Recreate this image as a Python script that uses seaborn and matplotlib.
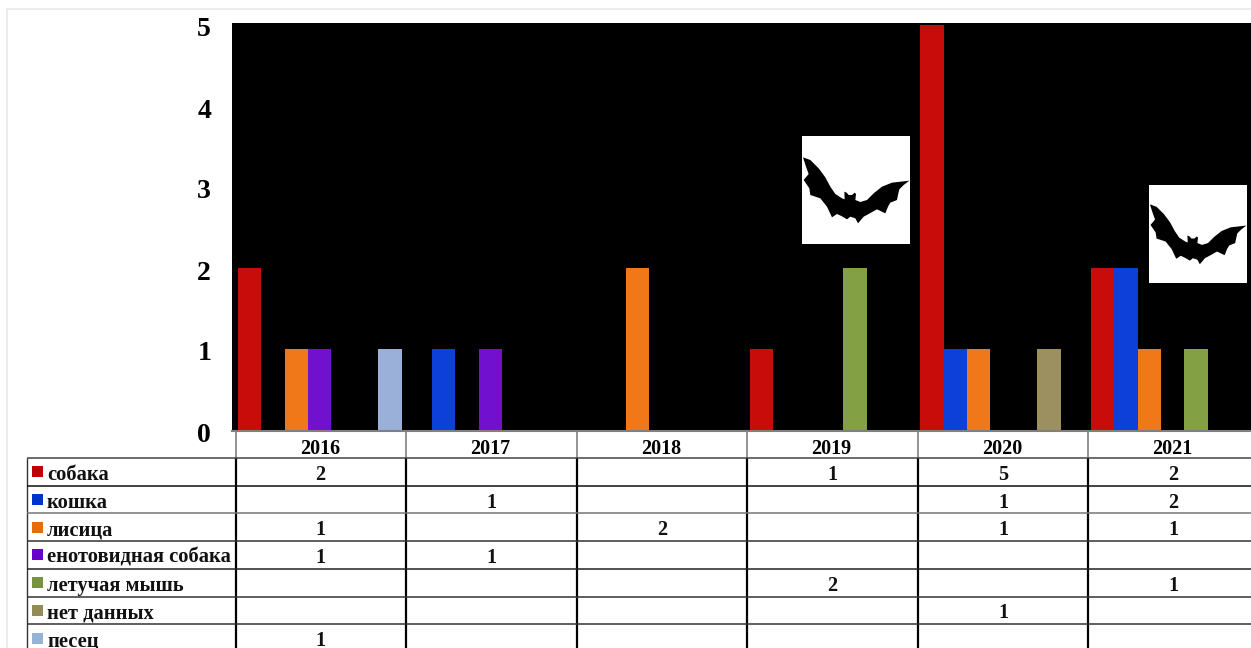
"""Cases by animal species and year, with a data table under the bars."""

import matplotlib

matplotlib.use("Agg")
import matplotlib.pyplot as plt
import numpy as np
import pandas as pd
import seaborn as sns
from matplotlib.patches import Polygon, Rectangle
from matplotlib.transforms import ScaledTranslation

YEARS = ["2016", "2017", "2018", "2019", "2020", "2021"]
SPECIES = ["собака", "кошка", "лисица", "енотовидная собака", "летучая мышь", "нет данных", "песец"]

DOG = [2, None, None, 1, 5, 2]
CAT = [None, 1, None, None, 1, 2]
FOX = [1, None, 2, None, 1, 1]
RACCOON_DOG = [1, 1, None, None, None, None]
BAT = [None, None, None, 2, None, 1]
NO_DATA = [None, None, None, None, 1, None]
ARCTIC_FOX = [1, None, None, None, None, None]
SERIES = [DOG, CAT, FOX, RACCOON_DOG, BAT, NO_DATA, ARCTIC_FOX]

BAR_COLORS = ["#c80c0a", "#0c40d8", "#f07818", "#7210d0", "#84a044", "#9c9060", "#9ab0d8"]
KEY_COLORS = ["#c00000", "#0033cc", "#e46c0a", "#6600cc", "#77933c", "#948a54", "#95b3d7"]
ROW_LINE_COLORS = ["#444444", "#111111", "#777777", "#333333", "#222222", "#333333", "#333333"]

# outline of the bat picture, traced at 3x (324 px box, 42 px above the trace)
BAT_SHAPE = (np.array([
    (3, 22), (25, 30), (50, 55), (70, 82), (85, 110), (100, 132), (120, 145), (128, 148),
    (127, 125), (134, 128), (140, 135), (150, 135), (158, 128), (162, 132), (160, 150),
    (175, 156), (195, 150), (215, 130), (240, 110), (270, 98), (322, 92), (305, 105),
    (292, 118), (288, 135), (285, 150), (265, 158), (258, 170), (250, 190), (225, 178),
    (200, 192), (185, 200), (168, 220), (160, 205), (145, 200), (135, 208), (118, 198),
    (105, 192), (90, 202), (75, 170), (55, 145), (25, 135), (22, 115), (5, 90), (20, 72),
    (12, 50),
]) + [0, 42]) / 324

WIDTH, HEIGHT = 1251, 648
COL_LEFT, COL_WIDTH = 236, 170.4
CENTER_0, CENTER_STEP = 320.5, 170.6
BAR_SHIFT = 0.8
ROW_TOP, ROW_HEIGHT = 458, 27.7
FONT = "Liberation Serif"


def draw_bars(ax):
    rows = []
    for name, values in zip(SPECIES, SERIES):
        for year, value in zip(YEARS, values):
            rows.append({"year": year, "species": name, "cases": value})
    df = pd.DataFrame(rows)

    sns.barplot(
        data=df, x="year", y="cases", hue="species", order=YEARS, hue_order=SPECIES,
        palette=BAR_COLORS, width=0.96, gap=0, saturation=1, legend=False, errorbar=None,
        linewidth=0, edgecolor="none", ax=ax,
    )
    ax.set_facecolor("black")
    center = CENTER_0 - BAR_SHIFT
    ax.set_xlim((232 - center) / CENTER_STEP, (WIDTH - center) / CENTER_STEP)
    ax.set_ylim(-1 / 81, 407 / 81)
    ax.set_yticks(range(6))
    ax.set_xlabel("")
    ax.set_ylabel("")
    ax.tick_params(axis="y", length=0, pad=15, labelsize=20)
    ax.tick_params(axis="x", length=0, pad=6, labelsize=14.5)
    for label in ax.get_xticklabels() + ax.get_yticklabels():
        label.set_fontweight("bold")
        label.set_fontfamily(FONT)
        label.set_color("black")
    # y labels sit a little under their gridline position
    shift = ScaledTranslation(0, -2 / 100, ax.figure.dpi_scale_trans)
    for label in ax.get_yticklabels():
        label.set_transform(label.get_transform() + shift)
    for spine in ax.spines.values():
        spine.set_visible(False)
    ax.spines["bottom"].set_visible(True)
    ax.spines["bottom"].set_color("#808080")
    ax.spines["bottom"].set_linewidth(1.5)


def draw_table(over):
    edges = [COL_LEFT + COL_WIDTH * k for k in range(len(YEARS) + 1)]

    # header dividers are grey, body dividers black
    over.vlines(edges, 431, ROW_TOP, color="#808080", lw=1.2)
    over.vlines(edges, ROW_TOP, HEIGHT, color="black", lw=1.6)
    over.vlines(26.7, ROW_TOP, HEIGHT, color="#333333", lw=1)
    for r, line_color in enumerate(ROW_LINE_COLORS):
        over.hlines(ROW_TOP + r * ROW_HEIGHT, 26.7, WIDTH, color=line_color, lw=1.1)

    for r, (name, values) in enumerate(zip(SPECIES, SERIES)):
        cy = ROW_TOP + (r + 0.5) * ROW_HEIGHT
        over.add_patch(Rectangle((32, cy - 5.5), 11, 11, color=KEY_COLORS[r], lw=0))
        over.text(47, cy + 3, name, family=FONT, weight="bold", size=14.8, va="center", ha="left",
                  color="#111111")
        for i, value in enumerate(values):
            if value is not None:
                over.text(CENTER_0 + CENTER_STEP * i, cy + 3, str(value), family=FONT, weight="bold",
                          size=14.5, va="center", ha="center", color="#111111")


def draw_bat(over, x, y, size):
    over.add_patch(Rectangle((x, y), size, size, color="white", lw=0))
    over.add_patch(Polygon(BAT_SHAPE * size + [x, y], closed=True, color="black", lw=0))


def main():
    sns.set_theme(style="white")
    fig = plt.figure(figsize=(WIDTH / 100, HEIGHT / 100), dpi=100, facecolor="white")
    ax = fig.add_axes([232 / WIDTH, (HEIGHT - 431) / HEIGHT, (WIDTH - 232) / WIDTH, 408 / HEIGHT])
    draw_bars(ax)

    # pixel-sized overlay for the table, the frame and the two pictures
    over = fig.add_axes([0, 0, 1, 1], facecolor="none")
    over.set_xlim(0, WIDTH)
    over.set_ylim(HEIGHT, 0)
    over.axis("off")
    over.plot([7, 7, WIDTH], [HEIGHT, 9, 9], color="#ececec", lw=1.5)
    draw_table(over)
    draw_bat(over, 802, 136, 108)
    draw_bat(over, 1149, 185, 98)

    fig.savefig("out.png", dpi=100)
    plt.close(fig)


if __name__ == "__main__":
    main()
